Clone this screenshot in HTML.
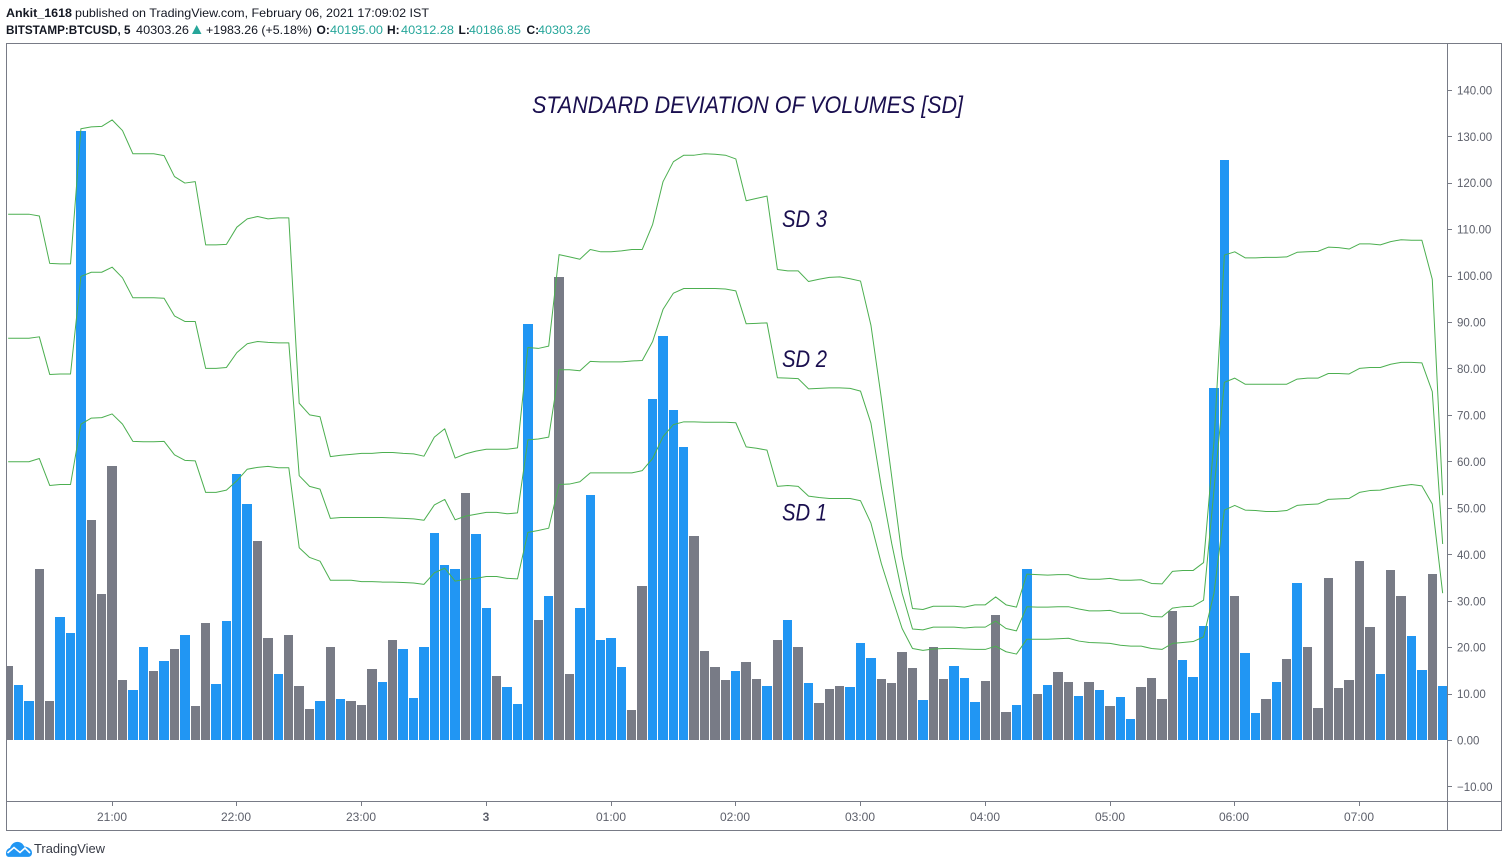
<!DOCTYPE html>
<html lang="en">
<head>
<meta charset="utf-8">
<title>BTCUSD Standard Deviation of Volumes</title>
<style>
html,body{margin:0;padding:0;background:#fff;width:1508px;height:867px;overflow:hidden}
svg{display:block;font-family:"Liberation Sans",sans-serif}
</style>
</head>
<body>
<svg id="chart" width="1508" height="867" viewBox="0 0 1508 867" xmlns="http://www.w3.org/2000/svg">
  <rect x="0" y="0" width="1508" height="867" fill="#ffffff"/>
  <g font-size="12" fill="#131722">
    <text x="6" y="17" font-weight="bold" textLength="66" lengthAdjust="spacingAndGlyphs">Ankit_1618</text>
    <text x="75" y="17" textLength="354" lengthAdjust="spacingAndGlyphs">published on TradingView.com, February 06, 2021 17:09:02 IST</text>
  </g>
  <g font-size="12" fill="#131722">
    <text x="6" y="34" font-weight="bold" textLength="124.5" lengthAdjust="spacingAndGlyphs">BITSTAMP:BTCUSD, 5</text>
    <text x="136" y="34" textLength="53" lengthAdjust="spacingAndGlyphs">40303.26</text>
    <polygon points="196.7,25 201.5,34 192,34" fill="#26a69a"/>
    <text x="206" y="34" textLength="106" lengthAdjust="spacingAndGlyphs">+1983.26 (+5.18%)</text>
    <text x="316.5" y="34" font-weight="bold">O:</text>
    <text x="330" y="34" fill="#26a69a" textLength="53" lengthAdjust="spacingAndGlyphs">40195.00</text>
    <text x="387" y="34" font-weight="bold">H:</text>
    <text x="401" y="34" fill="#26a69a" textLength="53" lengthAdjust="spacingAndGlyphs">40312.28</text>
    <text x="458.5" y="34" font-weight="bold">L:</text>
    <text x="469" y="34" fill="#26a69a" textLength="52" lengthAdjust="spacingAndGlyphs">40186.85</text>
    <text x="526.5" y="34" font-weight="bold">C:</text>
    <text x="538" y="34" fill="#26a69a" textLength="52.5" lengthAdjust="spacingAndGlyphs">40303.26</text>
  </g>
  <defs>
    <clipPath id="plot-clip"><rect x="7" y="44" width="1440" height="757"/></clipPath>
  </defs>
  <g id="bars" clip-path="url(#plot-clip)"></g>
  <g id="lines" clip-path="url(#plot-clip)"></g>
  <g fill="#1a0f4f" font-style="italic">
    <text x="532" y="113" font-size="24" textLength="431" lengthAdjust="spacingAndGlyphs">STANDARD DEVIATION OF VOLUMES [SD]</text>
    <text x="782" y="227" font-size="24" textLength="45" lengthAdjust="spacingAndGlyphs">SD 3</text>
    <text x="782" y="367" font-size="24" textLength="45" lengthAdjust="spacingAndGlyphs">SD 2</text>
    <text x="782" y="520.5" font-size="24" textLength="45" lengthAdjust="spacingAndGlyphs">SD 1</text>
  </g>
  <g stroke="#787b86" stroke-width="1" fill="none" shape-rendering="crispEdges">
    <rect x="6.5" y="43.5" width="1495" height="787"/>
    <line x1="1447.5" y1="44" x2="1447.5" y2="830"/>
    <line x1="7" y1="801.5" x2="1501" y2="801.5"/>
  </g>
  <g id="y-axis"></g>
  <g id="x-axis"></g>
  <g>
    <path d="M6 853.5c0-3 1.7-5 4-5.6 1.2-3.4 3.8-6 7.4-6 3.2 0 5.6 1.8 6.8 4.6 3.6 0 7.8 2.6 7.8 6.4 0 2.4-1.6 4-3.6 4H9c-2 0-3-1.4-3-3.4z" fill="#2196f3"/>
    <path d="M7.5 853l6.5-5.5 6 5 5-4.5 5 5" fill="none" stroke="#ffffff" stroke-width="1.6"/>
    <text x="34" y="853" font-size="13" fill="#363a45" textLength="71" lengthAdjust="spacingAndGlyphs">TradingView</text>
  </g>
</svg>
<script>
var volumes = [15.9,11.8,8.4,36.8,8.4,26.5,23.0,131.1,47.4,31.4,59.0,12.9,10.8,20.0,14.9,17.0,19.6,22.7,7.3,25.2,12.1,25.6,57.3,50.8,42.8,22.0,14.2,22.6,11.6,6.7,8.4,20.0,8.8,8.4,7.5,15.3,12.5,21.5,19.6,9.0,20.0,44.6,37.7,36.8,53.2,44.3,28.4,13.8,11.4,7.75,89.6,25.8,31.0,99.7,14.2,28.4,52.7,21.5,22.0,15.7,6.5,33.2,73.4,87.0,71.0,63.1,43.9,19.2,15.7,12.9,14.9,16.8,13.1,11.6,21.5,25.8,20.0,12.3,8.0,11.0,11.6,11.4,20.9,17.65,13.1,12.3,18.9,15.5,8.6,20.0,13.1,15.9,13.3,8.2,12.7,26.9,6.0,7.5,36.8,9.9,11.8,14.6,12.5,9.5,12.5,10.8,7.3,9.25,4.5,11.4,13.35,8.8,27.8,17.2,13.6,24.5,75.8,124.9,31.0,18.7,5.8,8.8,12.5,17.4,33.8,20.0,6.9,34.9,11.2,12.9,38.5,24.3,14.2,36.6,31.0,22.4,15.1,35.7,11.6];
var barIsUp = [0,1,1,0,0,1,1,1,0,0,0,0,1,1,0,1,0,1,0,0,1,1,1,1,0,0,1,0,0,0,1,0,1,0,0,0,1,0,1,1,1,1,1,1,0,1,1,0,1,1,1,0,1,0,0,1,1,1,1,1,0,0,1,1,1,1,0,0,0,0,1,0,0,1,0,1,0,1,0,0,0,1,1,1,0,0,0,0,1,0,0,1,1,1,0,0,0,1,1,0,1,0,0,1,0,1,0,1,1,0,0,0,0,1,1,1,1,1,0,1,1,0,1,0,1,0,0,0,0,0,0,0,1,0,0,1,1,0,1];
var sd3 = [113.2,113.2,113.2,112.8,102.6,102.5,102.5,131.6,132.0,132.1,133.5,131.2,126.2,126.2,126.2,125.8,121.3,119.9,120.2,106.6,106.6,106.7,110.4,112.2,112.7,112.2,112.4,112.4,72.5,70.0,69.6,61.0,61.3,61.5,61.7,61.7,61.9,61.9,61.7,61.6,61.1,65.2,67.0,60.7,61.6,62.2,62.6,62.6,62.6,62.9,84.5,84.3,84.8,104.5,104.0,103.5,105.6,105.1,105.1,105.3,105.6,105.6,111.0,120.2,124.5,125.9,125.9,126.2,126.1,125.9,125.1,116.1,116.6,117.1,101.3,101.0,101.0,98.7,99.2,99.6,99.7,99.3,98.8,89.3,73.6,56.7,39.5,28.3,28.1,28.8,28.8,28.8,28.6,29.1,29.1,30.8,29.1,28.6,35.7,35.6,35.5,35.6,35.6,34.9,34.6,34.6,34.8,34.4,34.4,34.5,33.7,33.6,36.3,36.5,36.5,38.2,64.2,104.4,105.1,103.8,103.8,103.9,103.9,104.0,105.0,105.1,105.2,106.1,106.0,105.7,106.8,106.8,106.6,107.3,107.7,107.6,107.6,99.2,52.7];
var sd2 = [86.5,86.5,86.5,86.8,78.7,78.8,78.8,99.8,100.7,100.7,101.8,99.5,95.2,95.2,95.2,95.1,91.3,90.1,90.1,80.0,80.0,80.2,83.4,85.3,85.8,85.6,85.5,85.5,56.9,54.6,54.0,47.7,47.9,47.9,47.9,47.9,47.9,47.8,47.7,47.6,47.3,50.6,51.8,47.4,48.2,48.6,49.0,49.0,48.7,48.9,64.6,64.8,65.2,79.7,79.7,79.5,81.5,81.4,81.4,81.4,81.6,81.7,85.8,92.7,96.2,97.2,97.2,97.2,97.2,97.1,96.7,89.6,89.7,89.8,78.0,77.9,77.8,75.6,75.7,75.8,75.8,75.7,75.1,68.2,54.5,42.3,31.6,23.9,23.7,24.3,24.3,24.3,24.1,24.3,24.3,25.6,24.0,23.5,28.7,28.6,28.6,28.7,28.7,28.2,27.8,27.8,27.9,27.3,27.3,27.3,26.6,26.5,28.4,28.7,28.8,30.1,53.8,77.0,77.9,76.6,76.6,76.6,76.6,76.6,77.7,77.9,77.9,78.9,78.9,78.8,80.0,80.2,80.2,80.9,81.3,81.3,81.2,75.0,42.2];
var sd1 = [59.9,59.9,59.9,60.6,54.8,55.0,55.0,68.0,69.3,69.4,70.2,68.0,64.3,64.2,64.2,64.3,61.4,60.2,60.1,53.3,53.3,53.8,55.8,58.3,58.7,58.9,58.6,58.6,41.4,39.3,38.5,34.4,34.4,34.4,34.1,34.1,34.0,34.0,33.9,33.8,33.5,36.0,37.0,34.2,34.6,34.8,35.2,35.2,34.8,34.7,44.7,45.1,45.6,55.0,55.1,55.6,57.5,57.5,57.5,57.5,57.5,58.0,60.6,65.3,67.9,68.5,68.5,68.4,68.4,68.4,68.3,63.1,62.8,62.4,54.6,54.8,54.6,52.5,52.2,52.0,52.0,52.0,51.5,46.7,38.0,30.9,24.0,19.7,19.3,19.6,19.7,19.7,19.6,19.5,19.5,20.2,19.0,18.5,21.7,21.7,21.7,21.8,21.9,21.3,21.0,20.9,20.8,20.4,20.2,20.2,19.7,19.5,20.8,21.0,21.2,22.2,31.6,49.5,50.5,49.5,49.4,49.2,49.2,49.4,50.5,50.7,50.8,51.8,51.9,52.0,53.3,53.7,53.8,54.3,54.7,55.0,54.7,50.8,31.6];
var yTickValues = [140,130,120,110,100,90,80,70,60,50,40,30,20,10,0,-10];
var xTickBars = [10,22,34,46,58,70,82,94,106,118,130];
var xTickLabels = ["21:00","22:00","23:00","3","01:00","02:00","03:00","04:00","05:00","06:00","07:00"];

var SVG_NS = "http://www.w3.org/2000/svg";
function yScale(v){ return 740 - 4.645 * v; }
function barLeft(i){ return Math.round(3.4 + 10.395 * i); }
function xCenter(i){ return 8.15 + 10.395 * i; }
function make(tag, attrs, parent){
  var el = document.createElementNS(SVG_NS, tag);
  for (var k in attrs) { el.setAttribute(k, attrs[k]); }
  parent.appendChild(el);
  return el;
}

var barsGroup = document.getElementById("bars");
volumes.forEach(function(v, i){
  var left = barLeft(i);
  var right = barLeft(i + 1) - 1;
  var top = Math.round(yScale(v));
  var el = make("rect", {
    x: left, y: top, width: right - left, height: Math.round(yScale(0)) - top,
    fill: barIsUp[i] ? "#2196f3" : "#787b86", "shape-rendering": "crispEdges"
  }, barsGroup);
  
  
});

var linesGroup = document.getElementById("lines");
[sd1, sd2, sd3].forEach(function(series){
  var pts = series.map(function(v, i){
    return xCenter(i).toFixed(2) + "," + yScale(v).toFixed(2);
  }).join(" ");
  var el = make("polyline", {
    points: pts, fill: "none", stroke: "#4caf50", "stroke-width": 1, "stroke-linejoin": "round"
  }, linesGroup);
  
  
});

var yAxis = document.getElementById("y-axis");
yTickValues.forEach(function(v){
  var y = yScale(v);
  var tick = make("line", {
    x1: 1447, x2: 1452, y1: Math.round(y) + 0.5, y2: Math.round(y) + 0.5,
    stroke: "#787b86", "shape-rendering": "crispEdges"
  }, yAxis);
  
  
  var label = make("text", {
    x: 1457, y: y + 4.6, "font-size": 11.5, fill: "#5d606b"
  }, yAxis);
  label.textContent = (v < 0 ? "\u2212" : "") + Math.abs(v).toFixed(2);
  
  
});

var xAxis = document.getElementById("x-axis");
xTickBars.forEach(function(b, i){
  var x = Math.floor(xCenter(b));
  var tick = make("line", {
    x1: x + 0.5, x2: x + 0.5, y1: 801, y2: 806,
    stroke: "#787b86", "shape-rendering": "crispEdges"
  }, xAxis);
  
  
  var isDay = xTickLabels[i].length < 3;
  var label = make("text", {
    x: x, y: 821, "font-size": 12, "text-anchor": "middle",
    fill: "#5d606b", "font-weight": isDay ? "bold" : "normal"
  }, xAxis);
  label.textContent = xTickLabels[i];
  
  
});
</script>
</body>
</html>
